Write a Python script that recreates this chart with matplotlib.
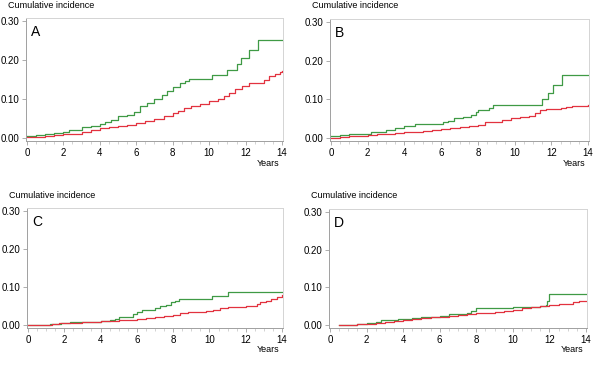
import matplotlib
matplotlib.use("Agg")
from matplotlib import pyplot as plt
from matplotlib.ticker import MultipleLocator, FormatStrFormatter

plt.rcParams["font.family"] = ["Liberation Sans", "DejaVu Sans"]

# step curves: (years, cumulative incidence)
a_green_t = [0, 0.5, 1.0, 1.5, 2.0, 2.3, 3.0, 3.5, 4.0, 4.3, 4.6, 5.0, 5.5, 5.9, 6.2, 6.6, 7.0, 7.4, 7.7, 8.0, 8.4, 8.7, 8.9, 10.15, 11.0, 11.5, 11.75, 12.2, 12.7, 14.0]
a_green_y = [0.006, 0.008, 0.01, 0.013, 0.016, 0.02, 0.027, 0.03, 0.036, 0.04, 0.045, 0.056, 0.06, 0.066, 0.081, 0.09, 0.1, 0.11, 0.12, 0.132, 0.14, 0.147, 0.152, 0.161, 0.174, 0.19, 0.206, 0.227, 0.252, 0.252]
a_red_t = [0, 0.5, 1.0, 1.5, 2.0, 2.5, 3.0, 3.5, 4.0, 4.5, 5.0, 5.5, 6.0, 6.5, 7.0, 7.5, 8.0, 8.3, 8.6, 9.0, 9.5, 10.0, 10.5, 10.8, 11.1, 11.4, 11.8, 12.2, 12.7, 13.0, 13.3, 13.6, 13.9, 14.0]
a_red_y = [0.002, 0.003, 0.005, 0.007, 0.009, 0.011, 0.015, 0.02, 0.025, 0.028, 0.031, 0.034, 0.039, 0.044, 0.049, 0.056, 0.064, 0.07, 0.078, 0.083, 0.088, 0.094, 0.1, 0.108, 0.116, 0.126, 0.133, 0.14, 0.141, 0.15, 0.158, 0.165, 0.17, 0.173]

b_green_t = [0, 0.5, 1.0, 2.2, 3.0, 3.5, 4.0, 4.6, 6.1, 6.4, 6.7, 7.2, 7.6, 7.9, 8.0, 8.6, 8.85, 11.5, 11.8, 12.1, 12.6, 14.0]
b_green_y = [0.005, 0.008, 0.01, 0.015, 0.02, 0.025, 0.03, 0.035, 0.04, 0.045, 0.052, 0.055, 0.06, 0.067, 0.072, 0.077, 0.084, 0.1, 0.117, 0.138, 0.164, 0.164]
b_red_t = [0, 0.5, 1.0, 1.5, 2.0, 2.5, 3.0, 3.5, 4.0, 4.5, 5.0, 5.5, 6.0, 6.5, 7.0, 7.5, 8.0, 8.4, 8.8, 9.3, 9.8, 10.3, 10.8, 11.1, 11.4, 11.7, 12.5, 12.8, 13.1, 14.0]
b_red_y = [0.001, 0.003, 0.005, 0.006, 0.007, 0.009, 0.011, 0.013, 0.015, 0.016, 0.018, 0.02, 0.022, 0.025, 0.027, 0.03, 0.034, 0.04, 0.042, 0.046, 0.052, 0.054, 0.056, 0.064, 0.072, 0.076, 0.077, 0.08, 0.083, 0.084]

c_green_t = [0, 1.2, 1.8, 2.3, 3.0, 4.0, 4.5, 4.8, 5.0, 5.5, 5.8, 6.0, 6.3, 7.0, 7.3, 7.6, 7.9, 8.1, 8.3, 10.15, 11.0, 14.0]
c_green_y = [0.0, 0.002, 0.005, 0.007, 0.008, 0.01, 0.012, 0.015, 0.02, 0.022, 0.028, 0.035, 0.04, 0.045, 0.05, 0.053, 0.06, 0.063, 0.068, 0.075, 0.087, 0.087]
c_red_t = [0, 1.0, 1.3, 1.7, 2.0, 2.5, 3.0, 3.5, 4.0, 4.5, 5.0, 5.5, 6.0, 6.5, 7.0, 7.5, 8.0, 8.4, 8.8, 9.3, 9.8, 10.2, 10.6, 11.0, 11.5, 12.0, 12.6, 12.8, 13.1, 13.4, 13.7, 14.0]
c_red_y = [0.0, 0.001, 0.002, 0.004, 0.005, 0.006, 0.007, 0.008, 0.01, 0.011, 0.012, 0.014, 0.016, 0.018, 0.021, 0.024, 0.027, 0.031, 0.034, 0.035, 0.037, 0.039, 0.044, 0.047, 0.048, 0.051, 0.054, 0.06, 0.064, 0.068, 0.073, 0.078]

d_green_t = [0.5, 1.5, 2.0, 2.5, 2.8, 3.7, 4.5, 5.0, 5.5, 6.0, 6.5, 7.0, 7.5, 7.7, 8.0, 10.0, 11.5, 11.8, 11.85, 12.0, 14.0]
d_green_y = [0.0, 0.002, 0.005, 0.008, 0.012, 0.015, 0.018, 0.02, 0.022, 0.025, 0.028, 0.03, 0.033, 0.037, 0.046, 0.047, 0.05, 0.052, 0.064, 0.082, 0.082]
d_red_t = [0.5, 1.0, 1.5, 2.0, 2.5, 3.0, 3.5, 4.0, 4.5, 5.0, 5.5, 6.0, 6.5, 7.0, 7.5, 8.0, 8.5, 9.0, 9.5, 10.0, 10.5, 11.0, 11.5, 12.0, 12.5, 13.0, 13.3, 13.6, 14.0]
d_red_y = [0.0, 0.001, 0.002, 0.003, 0.005, 0.008, 0.01, 0.013, 0.015, 0.018, 0.02, 0.022, 0.024, 0.026, 0.028, 0.031, 0.033, 0.035, 0.038, 0.041, 0.044, 0.047, 0.05, 0.054, 0.056, 0.057, 0.06, 0.063, 0.065]

panel_labels = ["A", "B", "C", "D"]
y_ticks = [0.0, 0.1, 0.2, 0.3]
x_ticks = [0, 2, 4, 6, 8, 10, 12, 14]

GREEN = "#3f9a45"
RED = "#e2323f"

W, H = 600, 367


def frac(left, top, right, bottom):
    # pixel box -> figure fraction rect
    return [left / W, 1 - bottom / H, (right - left) / W, (bottom - top) / H]


fig = plt.figure(figsize=(6, 3.67), dpi=100)

boxes = [
    frac(26, 18, 283, 141),
    frac(330, 19, 589, 141),
    frac(27, 208, 283, 328),
    frac(329, 209, 587, 328),
]
curves = [
    (a_green_t, a_green_y, a_red_t, a_red_y),
    (b_green_t, b_green_y, b_red_t, b_red_y),
    (c_green_t, c_green_y, c_red_t, c_red_y),
    (d_green_t, d_green_y, d_red_t, d_red_y),
]

for box, (gt, gy, rt, ry), letter in zip(boxes, curves, panel_labels):
    ax = fig.add_axes(box)
    ax.plot(gt, gy, drawstyle="steps-post", color=GREEN, lw=0.9)
    ax.plot(rt, ry, drawstyle="steps-post", color=RED, lw=0.9)

    ax.set_xlim(-0.05, 14.05)
    ax.set_ylim(-0.008, 0.308)
    ax.set_xticks(x_ticks)
    ax.set_yticks(y_ticks)
    ax.xaxis.set_minor_locator(MultipleLocator(0.5))
    ax.yaxis.set_major_formatter(FormatStrFormatter("%.2f"))
    ax.tick_params(which="major", length=3, width=0.6, color="#a0a0a0", labelsize=7, pad=2)
    ax.tick_params(which="minor", length=2, width=0.5, color="#c0c0c0")
    ax.tick_params(axis="y", which="minor", length=0)

    for side in ["left", "bottom"]:
        ax.spines[side].set_color("#a0a0a0")
        ax.spines[side].set_linewidth(0.7)
    for side in ["top", "right"]:
        ax.spines[side].set_color("#d4d4d4")
        ax.spines[side].set_linewidth(0.7)

    ax.text(0.02, 0.94, letter, transform=ax.transAxes, fontsize=10, va="top", ha="left")

    # axis titles sit outside the frame, as in the original
    x0, y0, w, h = box
    fig.text(x0 - 18 / W, y0 + h + 13 / H, "Cumulative incidence", fontsize=6.5, va="center", ha="left")
    fig.text(x0 + w - 4 / W, y0 - 22 / H, "Years", fontsize=6.5, va="center", ha="right")

fig.savefig("out.png", dpi=100)
